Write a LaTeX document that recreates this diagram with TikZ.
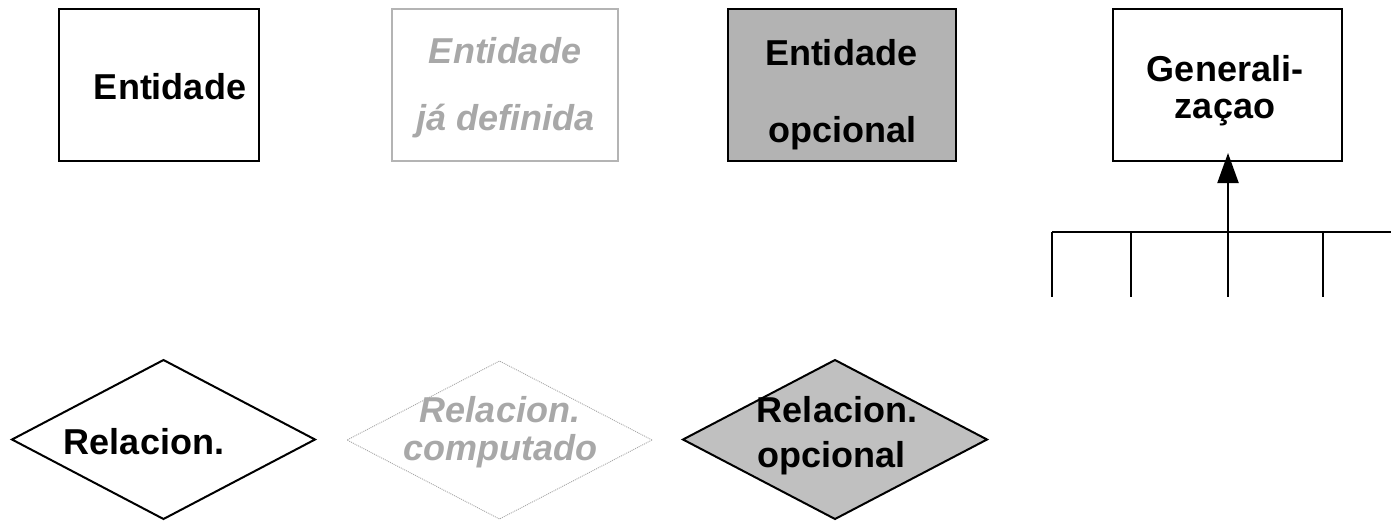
\documentclass[tikz,border=0pt]{standalone}
\usepackage{fontspec}
\setmainfont{Liberation Sans}
\usetikzlibrary{shapes.geometric,arrows.meta}
\definecolor{lightgr}{HTML}{B4B4B4}
\definecolor{textgr}{HTML}{A8A8A8}
\definecolor{boxfill}{HTML}{B3B3B3}
\definecolor{diafill}{HTML}{C0C0C0}
\tikzset{
  ent/.style={draw=black, line width=2pt, inner sep=0pt, outer sep=0pt},
  rel/.style={diamond, draw=black, line width=2pt, inner sep=0pt, outer sep=0pt},
  lbl/.style={anchor=base, inner sep=0pt, font=\fontsize{36}{40}\selectfont\bfseries},
  glbl/.style={lbl, text=textgr, font=\fontsize{36}{40}\selectfont\bfseries\itshape},
  genline/.style={line width=2pt},
}
\begin{document}
\begin{tikzpicture}[x=1pt,y=-1pt]
\useasboundingbox (0,0) rectangle (1391,520);
% entities
\node[ent, minimum width=200pt, minimum height=152pt] (e1) at (159,85) {};
\node[lbl] (t1) at (170,99) {Entidade};
\node[ent, draw=lightgr, line width=1.5pt, minimum width=226pt, minimum height=152pt] (e2) at (505,85) {};
\node[glbl] (t2a) at (505,63) {Entidade};
\node[glbl] (t2b) at (506,130) {já definida};
\node[ent, fill=boxfill, minimum width=228pt, minimum height=152pt] (e3) at (842,85) {};
\node[lbl] (t3a) at (841,65) {Entidade};
\node[lbl] (t3b) at (842,142) {opcional};
\node[ent, minimum width=229pt, minimum height=152pt] (g) at (1227.5,85) {};
\node[lbl] (t4a) at (1225,81) {Generali-};
\node[lbl] (t4b) at (1225,118) {zaçao};
% generalization
\coordinate (h0) at (1052,232);
\coordinate (h1) at (1131,232);
\coordinate (h2) at (1228,232);
\coordinate (h3) at (1323,232);
\coordinate (hr) at (1391,232);
\coordinate (v0) at (1052,297);
\coordinate (v1) at (1131,297);
\coordinate (v2) at (1228,297);
\coordinate (v3) at (1323,297);
\draw[genline] (h0) -- (hr);
\draw[genline] (h0) -- (v0);
\draw[genline] (h1) -- (v1);
\draw[genline] (h2) -- (v2);
\draw[genline] (h3) -- (v3);
\draw[genline, -{Triangle[length=30pt,width=21pt]}] (h2) -- ([yshift=8pt]g.south -| h2);
% relationships
\node[rel, minimum width=303pt, minimum height=159pt] (r1) at (163.5,439.5) {};
\node[lbl] (s1) at (144,454) {Relacion.};
\node[rel, draw=textgr, line width=0.9pt, dash pattern=on 1pt off 1pt, minimum width=305pt, minimum height=158pt] (r2) at (499.5,440) {};
\node[glbl] (s2a) at (500,422) {Relacion.};
\node[glbl] (s2b) at (500,460) {computado};
\node[rel, fill=diafill, minimum width=304pt, minimum height=159pt] (r3) at (835,439.5) {};
\node[lbl] (s3a) at (837,422) {Relacion.};
\node[lbl] (s3b) at (831,467) {opcional};
\end{tikzpicture}
\end{document}
